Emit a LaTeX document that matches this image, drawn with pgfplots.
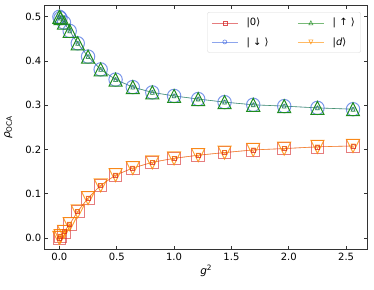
\documentclass[border=0pt]{standalone}
\usepackage{pgfplots}
\usepackage{pgfplotstable}
\pgfplotsset{compat=1.18}
\usepackage{fontspec}
\setmainfont{DejaVu Sans}
\definecolor{cred}{HTML}{D62728}
\definecolor{cblue}{HTML}{4169E1}
\definecolor{cgreen}{HTML}{1E8C1E}
\definecolor{corange}{HTML}{FF8C00}
\pgfdeclareplotmark{tup}{%
  \pgfpathmoveto{\pgfqpoint{0pt}{\pgfplotmarksize}}%
  \pgfpathlineto{\pgfqpoint{-\pgfplotmarksize}{-\pgfplotmarksize}}%
  \pgfpathlineto{\pgfqpoint{\pgfplotmarksize}{-\pgfplotmarksize}}%
  \pgfpathclose\pgfusepathqstroke}
\pgfdeclareplotmark{tdown}{%
  \pgfpathmoveto{\pgfqpoint{0pt}{-\pgfplotmarksize}}%
  \pgfpathlineto{\pgfqpoint{-\pgfplotmarksize}{\pgfplotmarksize}}%
  \pgfpathlineto{\pgfqpoint{\pgfplotmarksize}{\pgfplotmarksize}}%
  \pgfpathclose\pgfusepathqstroke}
\pgfplotstableread{
x up zero
0 0.500 0.000
0.01 0.497 0.004
0.04 0.487 0.014
0.09 0.468 0.031
0.16 0.440 0.060
0.25 0.410 0.090
0.36 0.381 0.119
0.49 0.358 0.142
0.64 0.341 0.158
0.81 0.329 0.171
1.00 0.321 0.180
1.21 0.314 0.187
1.44 0.307 0.193
1.69 0.301 0.199
1.96 0.298 0.202
2.25 0.294 0.206
2.56 0.291 0.208
}\data
\begin{document}
\begin{tikzpicture}
\useasboundingbox (-44.7pt,-40pt) rectangle (329.3pt,249pt);
\begin{axis}[
  at={(0,0)}, anchor=south west,
  scale only axis, width=323pt, height=243.3pt,
  xmin=-0.128, xmax=2.688, ymin=-0.025, ymax=0.525,
  xtick={0,0.5,1,1.5,2,2.5}, ytick={0,0.1,0.2,0.3,0.4,0.5},
  tick align=inside, major tick length=3.5pt,
  xtick pos=both, ytick pos=both,
  axis line style={line width=0.9pt, black!80},
  tick style={line width=0.7pt, black!80},
  /pgf/number format/.cd, fixed, fixed zerofill, precision=1, assume math mode=true,
  /pgfplots/.cd,
  tick label style={font=\fontsize{10}{12}\selectfont},
  xticklabel style={yshift=-1pt},
  xlabel={{\itshape g}\textsuperscript{2}},
  ylabel={{\itshape ρ}\textsubscript{OCA}},
  label style={font=\fontsize{10.5}{12}\selectfont},
  xlabel style={at={(axis description cs:0.5,0)}, anchor=north, yshift=-13pt},
  ylabel style={yshift=6pt},
  legend columns=2,
  legend style={at={(0.979,0.974)}, anchor=north east, draw=black!15, rounded corners=2pt,
    fill=white, fill opacity=0.8, text opacity=1, font=\fontsize{10}{12}\selectfont,
    /tikz/every odd column/.append style={column sep=6.5pt},
    /tikz/every even column/.append style={column sep=27pt},
    row sep=6pt, inner xsep=4pt, inner ysep=4pt},
  legend cell align=left,
  legend image code/.code={\draw[mark repeat=2,mark phase=2] plot coordinates {(0pt,0pt)(13pt,0pt)(26pt,0pt)};},
]
% large markers (no line)
\addplot[forget plot, only marks, mark=square, mark size=6.3pt, draw=cred, draw opacity=0.6, line width=1pt] table[x=x,y=zero]{\data};
\addplot[forget plot, only marks, mark=tdown, mark size=6.5pt, draw=corange, draw opacity=0.8, line width=1pt] table[x=x,y=zero]{\data};
\addplot[forget plot, only marks, mark=o, mark size=6.7pt, draw=cblue, draw opacity=0.7, line width=1pt] table[x=x,y=up]{\data};
\addplot[forget plot, only marks, mark=tup, mark size=6.5pt, draw=cgreen, line width=1pt] table[x=x,y=up]{\data};
% small markers with lines
\addplot[forget plot, color=cred, draw opacity=0.6, line width=0.6pt, mark=square, mark size=2pt, mark options={draw=cred, draw opacity=0.8}] table[x=x,y=zero]{\data};
\addplot[forget plot, color=cblue, draw opacity=0.6, line width=0.6pt, mark=o, mark size=2pt, mark options={draw=cblue, draw opacity=0.8}] table[x=x,y=up]{\data};
\addplot[forget plot, color=cgreen, draw opacity=0.6, line width=0.6pt, mark=tup, mark size=2pt, mark options={draw=cgreen, draw opacity=0.8}] table[x=x,y=up]{\data};
\addplot[forget plot, color=corange, draw opacity=0.6, line width=0.6pt, mark=tdown, mark size=2pt, mark options={draw=corange, draw opacity=0.8}] table[x=x,y=zero]{\data};
% legend
\addlegendimage{color=cred, draw opacity=0.6, line width=0.6pt, mark=square, mark size=2pt, mark options={draw=cred, draw opacity=0.8}}
\addlegendentry{|0⟩}
\addlegendimage{color=cgreen, draw opacity=0.6, line width=0.6pt, mark=tup, mark size=2pt, mark options={draw=cgreen, draw opacity=0.8}}
\addlegendentry{| ↑ ⟩}
\addlegendimage{color=cblue, draw opacity=0.6, line width=0.6pt, mark=o, mark size=2pt, mark options={draw=cblue, draw opacity=0.8}}
\addlegendentry{| ↓ ⟩}
\addlegendimage{color=corange, draw opacity=0.6, line width=0.6pt, mark=tdown, mark size=2pt, mark options={draw=corange, draw opacity=0.8}}
\addlegendentry{|{\itshape d}⟩}
\end{axis}
\end{tikzpicture}
\end{document}
